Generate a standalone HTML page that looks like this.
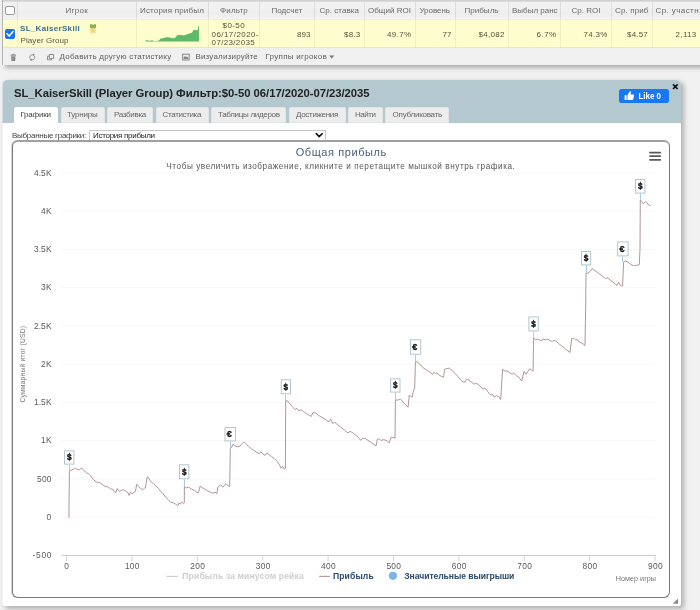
<!DOCTYPE html>
<html><head><meta charset="utf-8"><title>Player statistics</title>
<style>
html,body{margin:0;padding:0;}
body{width:700px;height:610px;overflow:hidden;background:#eeeeee;font-family:"Liberation Sans",sans-serif;position:relative;}
.t{position:absolute;white-space:pre;display:block;}
#grid{position:absolute;left:2px;top:0;width:720px;height:65px;background:#f0f0f0;box-shadow:3px 2.5px 4px rgba(0,0,0,.27);}
#gedge{position:absolute;left:2px;top:0;width:1px;height:64.5px;background:#b4b4b4;}
#ghead{position:absolute;left:3px;top:0;width:720px;height:19px;background:linear-gradient(#cfcfcf 0,#d2d2d2 1.3px,#f2f2f2 2px,#eeeeee 14px,#f3f3f3 19px);}
#grow{position:absolute;left:3px;top:19px;width:720px;height:28.9px;background:#fdfdce;border-top:1px solid #f0f0d4;border-bottom:1px solid #e6e6d0;box-sizing:border-box;}
.cb{position:absolute;top:1.5px;width:1px;height:46.4px;background:linear-gradient(rgba(120,120,120,.17) 0,rgba(120,120,120,.17) 17.5px,rgba(150,150,110,.12) 17.5px);}
.chk{position:absolute;box-sizing:border-box;border-radius:2px;}
#panel{position:absolute;left:3px;top:80.4px;width:677.7px;height:525.8px;background:#fff;border-radius:5px 5px 2px 3px;box-shadow:-1px 0 0 rgba(255,255,255,.5),2.5px 2.5px 5px rgba(0,0,0,.27);}
#phead{position:absolute;left:3px;top:80.4px;width:677.7px;box-shadow:-1px 0 0 rgba(180,200,207,.5);height:42.3px;background:#b4c8cf;border-radius:5px 5px 0 0;}
.tab{position:absolute;top:107px;height:15.7px;background:#ededed;border-radius:2.5px 2.5px 0 0;box-shadow:inset 0 0 0 .5px #d5dde0;}
.tab.on{background:#fff;box-shadow:none;}
#like{position:absolute;left:619.3px;top:88.6px;width:50px;height:14.3px;background:#1877f2;border-radius:2.5px;}
#sel{position:absolute;left:89px;top:129.6px;width:236.6px;height:11px;box-sizing:border-box;border:1px solid #c6c6c6;border-bottom-color:#b0b0b0;border-radius:1.5px;background:#fff;}
#chartbox{position:absolute;left:11.6px;top:140px;width:658.6px;height:457.8px;box-sizing:border-box;border:1px solid #7b7b7b;border-top:2px solid #a0a0a0;border-radius:6px;background:#fff;box-shadow:-1px 0 0 rgba(123,123,123,.3);}
#app{position:absolute;left:0;top:0;width:700px;height:610px;overflow:hidden;will-change:transform;background:#f1f1f1;}
svg{position:absolute;left:0;top:0;}
svg text{font-family:"Liberation Sans",sans-serif;}
</style></head>
<body>
<div id="app">

<div id="grid"></div><div id="ghead"></div><div id="grow"></div><div id="gedge"></div>
<div class="cb" style="left:16.5px"></div>
<div class="cb" style="left:135.9px"></div>
<div class="cb" style="left:208.0px"></div>
<div class="cb" style="left:259.0px"></div>
<div class="cb" style="left:313.9px"></div>
<div class="cb" style="left:363.9px"></div>
<div class="cb" style="left:414.9px"></div>
<div class="cb" style="left:454.9px"></div>
<div class="cb" style="left:507.9px"></div>
<div class="cb" style="left:560.1px"></div>
<div class="cb" style="left:611.1px"></div>
<div class="cb" style="left:651.5px"></div>
<div class="chk" style="left:5px;top:5.6px;width:9.6px;height:9.4px;background:#fff;border:1px solid #9a9a9a"></div>
<div class="chk" style="left:5px;top:28.6px;width:10px;height:10px;background:#1a73e8"></div>
<span class="t " style="left:65.5px;top:5.90px;height:10.40px;line-height:10.40px;font-size:8.0px;font-weight:normal;color:#6a6a6a;letter-spacing:0.284px">Игрок</span>
<span class="t " style="left:140.0px;top:5.90px;height:10.40px;line-height:10.40px;font-size:8.0px;font-weight:normal;color:#6a6a6a;letter-spacing:0.179px">История прибыл</span>
<span class="t " style="left:220.0px;top:5.90px;height:10.40px;line-height:10.40px;font-size:8.0px;font-weight:normal;color:#6a6a6a;letter-spacing:0.188px">Фильтр</span>
<span class="t " style="left:271.4px;top:5.90px;height:10.40px;line-height:10.40px;font-size:8.0px;font-weight:normal;color:#6a6a6a;letter-spacing:0.054px">Подсчет</span>
<span class="t " style="left:319.4px;top:5.90px;height:10.40px;line-height:10.40px;font-size:8.0px;font-weight:normal;color:#6a6a6a;letter-spacing:0.052px">Ср. ставка</span>
<span class="t " style="left:368.0px;top:5.90px;height:10.40px;line-height:10.40px;font-size:8.0px;font-weight:normal;color:#6a6a6a;letter-spacing:0.024px">Общий ROI</span>
<span class="t " style="left:419.4px;top:5.90px;height:10.40px;line-height:10.40px;font-size:8.0px;font-weight:normal;color:#6a6a6a;letter-spacing:-0.033px">Уровень</span>
<span class="t " style="left:464.4px;top:5.90px;height:10.40px;line-height:10.40px;font-size:8.0px;font-weight:normal;color:#6a6a6a;letter-spacing:0.051px">Прибыль</span>
<span class="t " style="left:512.0px;top:5.90px;height:10.40px;line-height:10.40px;font-size:8.0px;font-weight:normal;color:#6a6a6a;letter-spacing:-0.002px">Выбыл ранс</span>
<span class="t " style="left:571.4px;top:5.90px;height:10.40px;line-height:10.40px;font-size:8.0px;font-weight:normal;color:#6a6a6a;letter-spacing:0.042px">Ср. ROI</span>
<span class="t " style="left:615.0px;top:5.90px;height:10.40px;line-height:10.40px;font-size:8.0px;font-weight:normal;color:#6a6a6a;letter-spacing:0.136px">Ср. приб</span>
<span class="t " style="left:655.6px;top:5.90px;height:10.40px;line-height:10.40px;font-size:8.0px;font-weight:normal;color:#6a6a6a;letter-spacing:0.402px">Ср. участн</span>
<span class="t " style="left:20.0px;top:24.00px;height:10.40px;line-height:10.40px;font-size:8.0px;font-weight:bold;color:#3d6d8c;letter-spacing:0.315px">SL_KaiserSkill</span>
<span class="t " style="left:20.6px;top:36.00px;height:10.40px;line-height:10.40px;font-size:8.0px;font-weight:normal;color:#55553f;letter-spacing:0.072px">Player Group</span>
<span class="t " style="left:222.6px;top:20.60px;height:10.40px;line-height:10.40px;font-size:8.0px;font-weight:normal;color:#55553f;letter-spacing:0.386px">$0-50</span>
<span class="t " style="left:211.6px;top:30.00px;height:10.40px;line-height:10.40px;font-size:8.0px;font-weight:normal;color:#55553f;letter-spacing:0.427px">06/17/2020-</span>
<span class="t " style="left:211.6px;top:38.40px;height:10.40px;line-height:10.40px;font-size:8.0px;font-weight:normal;color:#55553f;letter-spacing:0.335px">07/23/2035</span>
<span class="t " style="left:297.0px;top:29.80px;height:10.40px;line-height:10.40px;font-size:8.0px;font-weight:normal;color:#55553f;letter-spacing:0.080px">893</span>
<span class="t " style="left:344.0px;top:29.80px;height:10.40px;line-height:10.40px;font-size:8.0px;font-weight:normal;color:#55553f;letter-spacing:0.205px">$8.3</span>
<span class="t " style="left:387.0px;top:29.80px;height:10.40px;line-height:10.40px;font-size:8.0px;font-weight:normal;color:#55553f;letter-spacing:0.383px">49.7%</span>
<span class="t " style="left:442.6px;top:29.80px;height:10.40px;line-height:10.40px;font-size:8.0px;font-weight:normal;color:#55553f;letter-spacing:-0.053px">77</span>
<span class="t " style="left:478.6px;top:29.80px;height:10.40px;line-height:10.40px;font-size:8.0px;font-weight:normal;color:#55553f;letter-spacing:0.255px">$4,082</span>
<span class="t " style="left:536.6px;top:29.80px;height:10.40px;line-height:10.40px;font-size:8.0px;font-weight:normal;color:#55553f;letter-spacing:0.441px">6.7%</span>
<span class="t " style="left:583.6px;top:29.80px;height:10.40px;line-height:10.40px;font-size:8.0px;font-weight:normal;color:#55553f;letter-spacing:0.263px">74.3%</span>
<span class="t " style="left:627.0px;top:29.80px;height:10.40px;line-height:10.40px;font-size:8.0px;font-weight:normal;color:#55553f;letter-spacing:0.194px">$4.57</span>
<span class="t " style="left:675.6px;top:29.80px;height:10.40px;line-height:10.40px;font-size:8.0px;font-weight:normal;color:#55553f;letter-spacing:0.312px">2,113</span>
<span class="t " style="left:59.5px;top:52.20px;height:10.40px;line-height:10.40px;font-size:8.0px;font-weight:normal;color:#606060;letter-spacing:0.248px">Добавить другую статистику</span>
<span class="t " style="left:195.4px;top:52.20px;height:10.40px;line-height:10.40px;font-size:8.0px;font-weight:normal;color:#606060;letter-spacing:0.195px">Визуализируйте</span>
<span class="t " style="left:265.4px;top:52.20px;height:10.40px;line-height:10.40px;font-size:8.0px;font-weight:normal;color:#606060;letter-spacing:0.296px">Группы игроков</span>
<div id="panel"></div><div id="phead"></div>
<div class="tab on" style="left:14px;width:44.0px"></div>
<div class="tab" style="left:60.6px;width:44.0px"></div>
<div class="tab" style="left:107px;width:46.0px"></div>
<div class="tab" style="left:155.6px;width:53.0px"></div>
<div class="tab" style="left:211.4px;width:75.0px"></div>
<div class="tab" style="left:289.4px;width:56.2px"></div>
<div class="tab" style="left:348.4px;width:34.2px"></div>
<div class="tab" style="left:385.4px;width:63.6px"></div>
<span class="t " style="left:14.0px;top:86.36px;height:14.69px;line-height:14.69px;font-size:11.3px;font-weight:bold;color:#222;letter-spacing:-0.038px">SL_KaiserSkill (Player Group) Фильтр:$0-50 06/17/2020-07/23/2035</span>
<span class="t " style="left:20.4px;top:109.60px;height:10.40px;line-height:10.40px;font-size:8.0px;font-weight:normal;color:#444;letter-spacing:-0.202px">Графики</span>
<span class="t " style="left:67.0px;top:109.60px;height:10.40px;line-height:10.40px;font-size:8.0px;font-weight:normal;color:#666;letter-spacing:-0.184px">Турниры</span>
<span class="t " style="left:114.0px;top:109.60px;height:10.40px;line-height:10.40px;font-size:8.0px;font-weight:normal;color:#666;letter-spacing:-0.305px">Разбивка</span>
<span class="t " style="left:162.6px;top:109.60px;height:10.40px;line-height:10.40px;font-size:8.0px;font-weight:normal;color:#666;letter-spacing:-0.362px">Статистика</span>
<span class="t " style="left:218.0px;top:109.60px;height:10.40px;line-height:10.40px;font-size:8.0px;font-weight:normal;color:#666;letter-spacing:-0.313px">Таблицы лидеров</span>
<span class="t " style="left:296.0px;top:109.60px;height:10.40px;line-height:10.40px;font-size:8.0px;font-weight:normal;color:#666;letter-spacing:-0.311px">Достижения</span>
<span class="t " style="left:355.0px;top:109.60px;height:10.40px;line-height:10.40px;font-size:8.0px;font-weight:normal;color:#666;letter-spacing:-0.446px">Найти</span>
<span class="t " style="left:392.6px;top:109.60px;height:10.40px;line-height:10.40px;font-size:8.0px;font-weight:normal;color:#666;letter-spacing:-0.243px">Опубликовать</span>
<div id="like"></div>
<span class="t " style="left:12.0px;top:131.00px;height:10.40px;line-height:10.40px;font-size:8.0px;font-weight:normal;color:#444;letter-spacing:-0.272px">Выбранные графики:</span>
<div id="sel"></div>
<span class="t " style="left:93.0px;top:130.70px;height:10.40px;line-height:10.40px;font-size:8.0px;font-weight:normal;color:#222;letter-spacing:-0.278px">История прибыли</span>
<div id="chartbox"></div>
<svg width="700" height="610" viewBox="0 0 700 610">
<polygon fill="#5fb968" points="145.8,41.5 145.8,40.0 148.0,40.5 150.0,40.7 152.0,40.3 154.0,41.0 156.0,41.2 158.0,40.8 159.5,40.0 160.5,38.5 163.0,38.3 165.0,37.5 167.0,37.2 170.0,37.5 172.0,38.2 175.0,38.0 176.5,36.0 178.0,35.0 181.0,35.0 184.0,35.5 186.0,34.8 188.0,34.0 190.0,33.2 192.0,32.8 193.5,30.0 195.0,29.7 196.5,30.5 197.8,29.5 198.5,26.0 199.0,26.0 199.0,41.5"/>
<path d="M90 24.2h2.2l.8 1.4.8-1.4H96v3.6l-1.6 1h-2.8l-1.6-1z" fill="#8bb04c"/>
<path d="M93 27.2l1.3 2 2.5.3-1.8 1.7.6 2.6-2.6-1.3-2.6 1.3.6-2.6-1.8-1.7 2.5-.3z" fill="#f4d582"/>
<path d="M7 33.8l2.2 2.2 3.9-4.4" fill="none" stroke="#fff" stroke-width="1.5" stroke-linecap="round" stroke-linejoin="round"/>
<g fill="#8a8a8a"><rect x="10.6" y="54.6" width="5.4" height="1.1"/><rect x="12.2" y="53.8" width="2.2" height="1"/><path d="M11.1 56.2h4.4l-.35 4.8h-3.7z"/></g>
<g fill="none" stroke="#8a8a8a" stroke-width="1"><path d="M30 58.4a2.6 2.6 0 0 1 2.4-3.6h1.2"/><path d="M34.6 56.2a2.6 2.6 0 0 1-2.4 3.6H31"/></g><path d="M33 53.4l1.9 1.4-1.9 1.4z" fill="#8a8a8a"/><path d="M31.6 58.4l-1.9 1.4 1.9 1.4z" fill="#8a8a8a"/>
<g fill="none" stroke="#8a8a8a" stroke-width="1"><path d="M49.4 54.5h4.2v3.9h-4.2z"/><path d="M49.2 56.2h-1.7v3.6h3.9v-1.2"/></g>
<rect x="182.6" y="54.2" width="6.6" height="5.8" fill="none" stroke="#8a8a8a" stroke-width="1"/><path d="M183.6 59v-1.6l1.3-1.5 1.2 1.2.9-.7 1.2 1.2V59z" fill="#8a8a8a"/>
<path d="M329.2 55.6h5l-2.5 3z" fill="#777"/>
<g fill="#fff"><rect x="624.6" y="95.2" width="2" height="4.8"/><path d="M627.4 95.2l2.2-3.6c.3-.6 1.4-.4 1.4.6l-.4 2.2h2.6c.7 0 1 .6.9 1.1l-.8 3.7c-.1.5-.5.8-1 .8h-4.9z"/></g>
<text x="638.5" y="99" font-size="8.2" font-weight="bold" fill="#fff" textLength="22.5" lengthAdjust="spacingAndGlyphs">Like 0</text>
<path d="M673 84.4l4.6 4.6M677.6 84.4l-4.6 4.6" stroke="#111" stroke-width="1.7" fill="none"/>
<path d="M316.2 133.6l3 3 3-3" fill="none" stroke="#111" stroke-width="1.5" stroke-linecap="round" stroke-linejoin="round"/>
<path d="M678 598.6v5.2h-5.2z" fill="#888"/>
<path d="M62 517.20H655.6" stroke="#f7f7f7" stroke-width="1"/>
<path d="M62 478.95H655.6" stroke="#f7f7f7" stroke-width="1"/>
<path d="M62 440.70H655.6" stroke="#f7f7f7" stroke-width="1"/>
<path d="M62 402.45H655.6" stroke="#f7f7f7" stroke-width="1"/>
<path d="M62 364.20H655.6" stroke="#f7f7f7" stroke-width="1"/>
<path d="M62 325.95H655.6" stroke="#f7f7f7" stroke-width="1"/>
<path d="M62 287.70H655.6" stroke="#f7f7f7" stroke-width="1"/>
<path d="M62 249.45H655.6" stroke="#f7f7f7" stroke-width="1"/>
<path d="M62 211.20H655.6" stroke="#f7f7f7" stroke-width="1"/>
<path d="M62 172.95H655.6" stroke="#f7f7f7" stroke-width="1"/>
<path d="M62 555.45H655.6" stroke="#cbcbcb" stroke-width="1"/>
<path d="M66.50 555.45V561.2" stroke="#d4d4d4" stroke-width="1"/>
<path d="M131.89 555.45V561.2" stroke="#d4d4d4" stroke-width="1"/>
<path d="M197.28 555.45V561.2" stroke="#d4d4d4" stroke-width="1"/>
<path d="M262.67 555.45V561.2" stroke="#d4d4d4" stroke-width="1"/>
<path d="M328.06 555.45V561.2" stroke="#d4d4d4" stroke-width="1"/>
<path d="M393.45 555.45V561.2" stroke="#d4d4d4" stroke-width="1"/>
<path d="M458.84 555.45V561.2" stroke="#d4d4d4" stroke-width="1"/>
<path d="M524.23 555.45V561.2" stroke="#d4d4d4" stroke-width="1"/>
<path d="M589.62 555.45V561.2" stroke="#d4d4d4" stroke-width="1"/>
<path d="M655.01 555.45V561.2" stroke="#d4d4d4" stroke-width="1"/>
<text x="32.5" y="558.1" font-size="8.4" fill="#5a5a5a" textLength="19.0" lengthAdjust="spacing">-500</text>
<text x="46.5" y="519.8" font-size="8.4" fill="#5a5a5a" textLength="5.0" lengthAdjust="spacing">0</text>
<text x="37.1" y="481.6" font-size="8.4" fill="#5a5a5a" textLength="14.4" lengthAdjust="spacing">500</text>
<text x="40.9" y="443.3" font-size="8.4" fill="#5a5a5a" textLength="10.6" lengthAdjust="spacing">1K</text>
<text x="33.9" y="405.1" font-size="8.4" fill="#5a5a5a" textLength="17.6" lengthAdjust="spacing">1.5K</text>
<text x="40.9" y="366.8" font-size="8.4" fill="#5a5a5a" textLength="10.6" lengthAdjust="spacing">2K</text>
<text x="33.9" y="328.6" font-size="8.4" fill="#5a5a5a" textLength="17.6" lengthAdjust="spacing">2.5K</text>
<text x="40.9" y="290.3" font-size="8.4" fill="#5a5a5a" textLength="10.6" lengthAdjust="spacing">3K</text>
<text x="33.9" y="252.1" font-size="8.4" fill="#5a5a5a" textLength="17.6" lengthAdjust="spacing">3.5K</text>
<text x="40.9" y="213.8" font-size="8.4" fill="#5a5a5a" textLength="10.6" lengthAdjust="spacing">4K</text>
<text x="33.9" y="175.6" font-size="8.4" fill="#5a5a5a" textLength="17.6" lengthAdjust="spacing">4.5K</text>
<text x="64.3" y="569.0" font-size="8.4" fill="#5a5a5a" textLength="5.0" lengthAdjust="spacing">0</text>
<text x="124.9" y="569.0" font-size="8.4" fill="#5a5a5a" textLength="14.6" lengthAdjust="spacing">100</text>
<text x="190.3" y="569.0" font-size="8.4" fill="#5a5a5a" textLength="14.6" lengthAdjust="spacing">200</text>
<text x="255.7" y="569.0" font-size="8.4" fill="#5a5a5a" textLength="14.6" lengthAdjust="spacing">300</text>
<text x="321.1" y="569.0" font-size="8.4" fill="#5a5a5a" textLength="14.6" lengthAdjust="spacing">400</text>
<text x="386.4" y="569.0" font-size="8.4" fill="#5a5a5a" textLength="14.6" lengthAdjust="spacing">500</text>
<text x="451.8" y="569.0" font-size="8.4" fill="#5a5a5a" textLength="14.6" lengthAdjust="spacing">600</text>
<text x="517.2" y="569.0" font-size="8.4" fill="#5a5a5a" textLength="14.6" lengthAdjust="spacing">700</text>
<text x="582.6" y="569.0" font-size="8.4" fill="#5a5a5a" textLength="14.6" lengthAdjust="spacing">800</text>
<text x="648.0" y="569.0" font-size="8.4" fill="#5a5a5a" textLength="14.6" lengthAdjust="spacing">900</text>
<text x="615.7" y="581.2" font-size="7.2" fill="#777" textLength="40.3" lengthAdjust="spacing">Номер игры</text>
<text transform="translate(24.5 402.6) rotate(-90)" font-size="6.7" fill="#777" textLength="76.6" lengthAdjust="spacing">Суммарный итог (USD)</text>
<text x="295.7" y="156.4" font-size="11" fill="#485e74" textLength="90.6" lengthAdjust="spacing">Общая прибыль</text>
<text x="166.3" y="169.2" font-size="8.2" fill="#585858" textLength="348.6" lengthAdjust="spacing">Чтобы увеличить изображение, кликните и перетащите мышкой внутрь графика.</text>
<rect x="649.1" y="151.7" width="12" height="1.8" rx=".8" fill="#5a5a5a"/>
<rect x="649.1" y="155.3" width="12" height="1.8" rx=".8" fill="#5a5a5a"/>
<rect x="649.1" y="159.0" width="12" height="1.8" rx=".8" fill="#5a5a5a"/>
<path fill="none" stroke="#ac9094" stroke-width="0.95" stroke-linejoin="round" d="M68.9 517.9 L69.4 471.4 L71.4 470.0 L73.6 469.3 L75.4 468.1 L77.1 469.3 L79.3 470.0 L81.4 467.9 L83.6 470.3 L86.4 472.6 L89.3 474.3 L91.4 476.9 L93.6 479.7 L96.4 482.1 L99.3 482.4 L102.1 484.3 L105.0 486.4 L107.9 486.9 L110.7 488.9 L112.9 489.3 L115.7 492.9 L117.1 488.6 L119.3 491.4 L121.4 490.3 L123.6 489.7 L125.7 491.1 L127.9 492.6 L129.0 495.4 L130.3 492.1 L132.1 493.6 L134.3 492.1 L135.4 491.4 L136.7 484.3 L138.6 486.4 L140.7 488.6 L142.6 489.7 L144.3 488.3 L145.4 487.9 L147.1 476.9 L148.3 477.4 L150.0 480.7 L152.1 482.6 L153.6 483.6 L155.7 485.7 L158.6 488.6 L158.6 488.6 L162.9 493.6 L167.1 498.6 L170.7 502.1 L173.6 502.9 L175.7 504.3 L177.9 505.7 L179.0 502.9 L180.3 503.9 L181.7 502.1 L183.1 503.3 L184.3 502.9 L184.4 486.4 L186.4 487.9 L188.6 487.1 L191.4 489.0 L194.3 490.4 L196.4 492.1 L198.3 492.9 L200.0 486.4 L202.1 487.6 L205.0 489.3 L207.9 491.0 L210.7 492.4 L212.9 493.3 L215.0 492.1 L216.9 493.6 L217.6 487.9 L219.3 485.7 L220.7 485.0 L222.9 487.1 L224.3 485.7 L225.7 483.6 L227.9 485.7 L229.7 486.4 L230.3 448.6 L231.7 447.1 L232.9 444.3 L235.0 445.7 L237.1 446.7 L240.0 446.1 L242.1 443.6 L243.6 442.1 L245.7 443.6 L248.6 446.4 L251.4 448.9 L254.3 450.7 L257.1 452.6 L259.3 453.6 L260.7 451.7 L262.9 454.0 L265.0 455.4 L266.9 452.9 L268.6 454.3 L271.4 456.4 L274.3 458.6 L277.1 461.4 L279.3 464.3 L281.1 468.3 L282.6 466.4 L284.3 468.9 L285.4 468.6 L285.7 400.3 L287.9 401.4 L290.0 404.0 L292.1 406.4 L295.0 409.7 L296.9 408.3 L298.6 410.7 L301.4 409.7 L303.6 411.7 L306.4 413.6 L309.3 415.4 L311.4 416.4 L312.9 412.6 L315.7 413.1 L318.6 415.4 L321.4 417.1 L324.3 418.6 L327.1 420.7 L328.9 421.7 L330.7 419.3 L332.9 423.6 L334.3 422.1 L337.1 424.3 L340.7 427.1 L344.3 430.0 L347.9 432.9 L350.0 431.4 L352.9 432.9 L356.4 435.7 L359.3 438.3 L360.7 440.3 L362.1 438.6 L365.0 438.3 L367.9 440.3 L370.7 442.1 L373.6 444.3 L376.0 446.0 L377.4 439.3 L379.3 438.9 L381.1 440.7 L382.9 439.7 L385.0 440.0 L387.1 440.7 L389.3 442.9 L391.1 437.1 L392.9 437.4 L395.0 438.3 L395.4 400.0 L397.9 400.0 L400.7 399.3 L402.9 402.1 L405.7 405.0 L408.1 407.1 L409.3 395.0 L410.7 396.4 L412.1 397.1 L413.6 390.7 L414.7 387.9 L415.4 361.4 L417.9 362.4 L420.7 365.0 L422.9 367.6 L426.4 370.0 L430.0 372.1 L432.6 374.3 L434.0 372.1 L435.4 373.6 L436.9 372.9 L440.0 375.7 L443.6 377.1 L444.6 369.3 L447.1 368.6 L449.3 368.1 L452.1 370.4 L455.0 373.3 L457.9 376.4 L460.7 380.0 L462.9 381.9 L465.0 382.1 L466.4 379.3 L468.6 380.0 L471.4 382.1 L474.3 384.3 L475.7 382.9 L478.6 385.0 L480.7 386.4 L482.9 389.3 L484.6 387.9 L487.1 390.7 L489.3 393.6 L490.7 395.0 L492.9 394.7 L494.3 397.1 L496.4 395.7 L498.6 396.4 L500.7 399.6 L502.6 369.3 L505.0 371.4 L507.1 370.7 L510.0 372.9 L512.1 374.3 L513.6 372.9 L516.4 375.7 L518.6 377.1 L521.7 381.0 L524.0 371.4 L526.0 374.3 L527.9 371.4 L529.7 368.6 L531.4 370.0 L533.1 371.0 L533.6 337.9 L535.7 340.0 L537.9 339.0 L540.0 340.0 L541.4 341.0 L542.9 339.0 L545.7 340.0 L547.9 339.0 L550.0 340.7 L552.1 341.4 L554.3 340.4 L556.4 341.4 L558.6 343.6 L561.4 345.7 L564.3 347.9 L567.1 350.4 L570.0 352.4 L571.7 338.6 L573.6 338.1 L575.7 340.0 L577.4 339.6 L579.3 342.1 L581.4 342.9 L582.9 343.6 L585.0 345.7 L585.7 306.4 L586.0 272.9 L587.9 273.3 L590.0 271.4 L592.1 268.6 L594.3 270.4 L597.1 272.1 L600.0 274.3 L602.9 276.4 L605.7 278.6 L607.9 277.6 L610.0 280.0 L612.9 282.1 L615.7 284.3 L617.1 285.3 L618.6 282.4 L620.7 285.7 L622.6 286.1 L623.6 262.1 L625.7 261.0 L627.9 262.1 L630.7 264.3 L633.6 265.7 L636.4 265.3 L639.3 264.7 L640.0 249.3 L640.3 200.0 L641.4 201.4 L642.9 203.6 L644.3 202.9 L645.7 201.4 L647.1 202.9 L648.6 205.0 L650.7 205.7"/>
<path d="M69.5 464.6V471.0" stroke="#a8cbe6" stroke-width="1"/>
<rect x="64.6" y="450.8" width="9.3" height="13.3" fill="#fff" stroke="#a6bcc8" stroke-width="0.85"/>
<text x="69.3" y="460.4" font-size="8.2" font-weight="bold" text-anchor="middle" fill="#111" stroke="#111" stroke-width=".35">$</text>
<path d="M184.5 479.3V486.4" stroke="#a8cbe6" stroke-width="1"/>
<rect x="179.5" y="464.8" width="9.3" height="14.0" fill="#fff" stroke="#a6bcc8" stroke-width="0.85"/>
<text x="184.2" y="474.7" font-size="8.2" font-weight="bold" text-anchor="middle" fill="#111" stroke="#111" stroke-width=".35">$</text>
<path d="M230.5 441.4V448.6" stroke="#a8cbe6" stroke-width="1"/>
<rect x="225.0" y="427.6" width="10.4" height="13.3" fill="#fff" stroke="#a6bcc8" stroke-width="0.85"/>
<text x="229.3" y="437.1" font-size="9" font-weight="bold" text-anchor="middle" fill="#111" stroke="#111" stroke-width=".35">€</text>
<path d="M285.5 394.3V400.3" stroke="#a8cbe6" stroke-width="1"/>
<rect x="281.2" y="379.8" width="9.3" height="14.0" fill="#fff" stroke="#a6bcc8" stroke-width="0.85"/>
<text x="285.8" y="389.7" font-size="8.2" font-weight="bold" text-anchor="middle" fill="#111" stroke="#111" stroke-width=".35">$</text>
<path d="M395.5 392.6V400.0" stroke="#a8cbe6" stroke-width="1"/>
<rect x="390.7" y="378.8" width="9.3" height="13.3" fill="#fff" stroke="#a6bcc8" stroke-width="0.85"/>
<text x="395.3" y="388.4" font-size="8.2" font-weight="bold" text-anchor="middle" fill="#111" stroke="#111" stroke-width=".35">$</text>
<path d="M415.5 354.7V361.4" stroke="#a8cbe6" stroke-width="1"/>
<rect x="410.4" y="339.8" width="10.4" height="14.4" fill="#fff" stroke="#a6bcc8" stroke-width="0.85"/>
<text x="414.7" y="349.8" font-size="9" font-weight="bold" text-anchor="middle" fill="#111" stroke="#111" stroke-width=".35">€</text>
<path d="M533.5 331.4V337.9" stroke="#a8cbe6" stroke-width="1"/>
<rect x="528.9" y="316.9" width="9.3" height="14.0" fill="#fff" stroke="#a6bcc8" stroke-width="0.85"/>
<text x="533.5" y="326.8" font-size="8.2" font-weight="bold" text-anchor="middle" fill="#111" stroke="#111" stroke-width=".35">$</text>
<path d="M586.5 265.4V272.9" stroke="#a8cbe6" stroke-width="1"/>
<rect x="581.4" y="251.6" width="9.3" height="13.3" fill="#fff" stroke="#a6bcc8" stroke-width="0.85"/>
<text x="586.0" y="261.1" font-size="8.2" font-weight="bold" text-anchor="middle" fill="#111" stroke="#111" stroke-width=".35">$</text>
<path d="M622.5 256.4V262.1" stroke="#a8cbe6" stroke-width="1"/>
<rect x="617.7" y="241.9" width="10.4" height="14.0" fill="#fff" stroke="#a6bcc8" stroke-width="0.85"/>
<text x="622.0" y="251.7" font-size="9" font-weight="bold" text-anchor="middle" fill="#111" stroke="#111" stroke-width=".35">€</text>
<path d="M640.5 193.6V200.0" stroke="#a8cbe6" stroke-width="1"/>
<rect x="635.6" y="179.5" width="9.3" height="13.6" fill="#fff" stroke="#a6bcc8" stroke-width="0.85"/>
<text x="640.3" y="189.2" font-size="8.2" font-weight="bold" text-anchor="middle" fill="#111" stroke="#111" stroke-width=".35">$</text>
<path d="M166.3 576.4H177.7" stroke="#d0d0d0" stroke-width="1.2"/>
<text x="182.3" y="579.2" font-size="8.6" fill="#cfcfcf" font-weight="bold" textLength="121.4" lengthAdjust="spacing">Прибыль за минусом рейка</text>
<path d="M319.1 576.4H330" stroke="#b8a0a2" stroke-width="1.2"/>
<text x="332.9" y="579.2" font-size="8.6" fill="#2b4a6b" font-weight="bold" textLength="40.8" lengthAdjust="spacing">Прибыль</text>
<circle cx="392.9" cy="575.8" r="4.1" fill="#7cb5ec"/>
<text x="404.3" y="579.2" font-size="8.6" fill="#2b4a6b" font-weight="bold" textLength="110.0" lengthAdjust="spacing">Значительные выигрыши</text>
</svg>
</div>
</body></html>
